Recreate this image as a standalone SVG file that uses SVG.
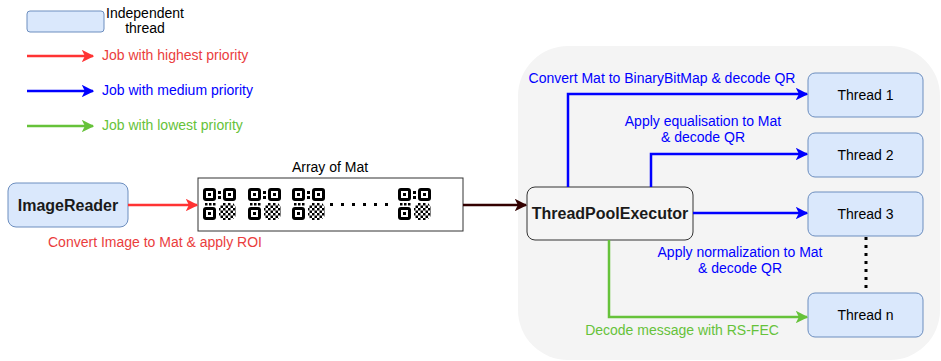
<svg xmlns="http://www.w3.org/2000/svg" xmlns:xlink="http://www.w3.org/1999/xlink" width="941" height="361" viewBox="0 0 941 361">
  <style>
    text { font-family: "Liberation Sans", Arial, sans-serif; font-size: 14px; }
    .thread { fill: #dae8fc; stroke: #6c8ebf; stroke-width: 1; }
    .bold { font-weight: bold; font-size: 16px; fill: #1a1a1a; }
    .c { text-anchor: middle; }
    .red { fill: #ea3d3d; }
    .blue { fill: #0000ff; }
    .green { fill: #66c23a; }
    .ln { fill: none; stroke-width: 2.5; }
  </style>
  <defs>
    <marker id="ah-red" viewBox="0 0 10 10" refX="9" refY="5" markerWidth="5" markerHeight="5" markerUnits="strokeWidth" orient="auto">
      <path d="M0,0 L10,5 L0,10 L2.5,5 Z" fill="#ff3333"/>
    </marker>
    <marker id="ah-blue" viewBox="0 0 10 10" refX="9" refY="5" markerWidth="5" markerHeight="5" markerUnits="strokeWidth" orient="auto">
      <path d="M0,0 L10,5 L0,10 L2.5,5 Z" fill="#0000ff"/>
    </marker>
    <marker id="ah-green" viewBox="0 0 10 10" refX="9" refY="5" markerWidth="5" markerHeight="5" markerUnits="strokeWidth" orient="auto">
      <path d="M0,0 L10,5 L0,10 L2.5,5 Z" fill="#66c23a"/>
    </marker>
    <marker id="ah-dark" viewBox="0 0 10 10" refX="9" refY="5" markerWidth="5" markerHeight="5" markerUnits="strokeWidth" orient="auto">
      <path d="M0,0 L10,5 L0,10 L2.5,5 Z" fill="#330000"/>
    </marker>
    <pattern id="checker" width="5" height="5" patternUnits="userSpaceOnUse">
      <rect x="0" y="0" width="2.5" height="2.5" fill="#000"/>
      <rect x="2.5" y="2.5" width="2.5" height="2.5" fill="#000"/>
    </pattern>
    <g id="finder">
      <rect x="0" y="0" width="13" height="13" rx="3" fill="#000"/>
      <rect x="3" y="3" width="7" height="7" fill="#fff"/>
      <rect x="5" y="5" width="3" height="3" fill="#000"/>
    </g>
    <!-- QR code glyph, 33 x 32 -->
    <symbol id="qr" viewBox="0 0 33 32" width="33" height="32">
      <use xlink:href="#finder" x="0" y="0"/>
      <use xlink:href="#finder" x="20" y="0"/>
      <use xlink:href="#finder" x="0" y="19"/>
      <rect x="15" y="3" width="3" height="3"/>
      <rect x="15" y="8" width="3" height="3"/>
      <rect x="2" y="15" width="2.5" height="2.5"/>
      <rect x="6" y="15" width="2.5" height="2.5"/>
      <rect x="10" y="15" width="2.5" height="2.5"/>
      <path d="M20,15 L30,15 L33,19 L33,28 L29,32 L19,32 L16,28 L16,19 Z" fill="url(#checker)"/>
    </symbol>
  </defs>

  <!-- legend -->
  <g id="legend">
    <rect class="thread" x="27" y="11" width="77" height="21" rx="3"/>
    <text x="145" y="18" class="c">Independent</text>
    <text x="145" y="33" class="c">thread</text>
    <line class="ln" x1="27" y1="56" x2="93" y2="56" stroke="#ff3333" marker-end="url(#ah-red)"/>
    <text x="102" y="60" class="red">Job with highest priority</text>
    <line class="ln" x1="27" y1="91" x2="93" y2="91" stroke="#0000ff" marker-end="url(#ah-blue)"/>
    <text x="102" y="95" class="blue">Job with medium priority</text>
    <line class="ln" x1="27" y1="126" x2="93" y2="126" stroke="#66c23a" marker-end="url(#ah-green)"/>
    <text x="102" y="130" class="green">Job with lowest priority</text>
  </g>

  <!-- thread pool background -->
  <rect id="pool-area" x="518" y="46" width="422" height="314" rx="50" fill="#f4f4f4"/>

  <g id="image-reader">
    <rect class="thread" x="8" y="183" width="120" height="44" rx="8"/>
    <text x="68" y="211" class="bold c">ImageReader</text>
  </g>

  <g id="array-of-mat">
    <text x="330" y="172" class="c">Array of Mat</text>
    <rect x="198" y="178" width="265" height="53" fill="#fff" stroke="#333" stroke-width="1"/>
    <use xlink:href="#qr" x="203" y="188"/>
    <use xlink:href="#qr" x="248" y="188"/>
    <use xlink:href="#qr" x="292" y="188"/>
    <use xlink:href="#qr" x="398" y="188"/>
    <g fill="#000">
      <rect x="330" y="203" width="3" height="3"/>
      <rect x="341" y="203" width="3" height="3"/>
      <rect x="352" y="203" width="3" height="3"/>
      <rect x="363" y="203" width="3" height="3"/>
      <rect x="374" y="203" width="3" height="3"/>
      <rect x="385" y="203" width="3" height="3"/>
    </g>
  </g>

  <g id="executor">
    <rect x="527" y="187" width="166" height="53" rx="8" fill="#f5f5f5" stroke="#333" stroke-width="1"/>
    <text x="610" y="219" class="bold c">ThreadPoolExecutor</text>
  </g>

  <g id="thread-1">
    <rect class="thread" x="808" y="73" width="115" height="44" rx="7"/>
    <text x="865.5" y="100" class="c">Thread 1</text>
  </g>
  <g id="thread-2">
    <rect class="thread" x="808" y="133" width="115" height="44" rx="7"/>
    <text x="865.5" y="160" class="c">Thread 2</text>
  </g>
  <g id="thread-3">
    <rect class="thread" x="808" y="192" width="115" height="44" rx="7"/>
    <text x="865.5" y="219" class="c">Thread 3</text>
  </g>
  <g id="thread-n">
    <rect class="thread" x="808" y="293" width="115" height="44" rx="7"/>
    <text x="865.5" y="320" class="c">Thread n</text>
  </g>

  <g id="connectors">
    <line class="ln" x1="128" y1="205" x2="197" y2="205" stroke="#ff3333" marker-end="url(#ah-red)"/>
    <line class="ln" x1="463" y1="205" x2="526" y2="205" stroke="#330000" marker-end="url(#ah-dark)"/>
    <path class="ln" d="M568,187 V94 H807" stroke="#0000ff" marker-end="url(#ah-blue)"/>
    <path class="ln" d="M651,187 V154 H807" stroke="#0000ff" marker-end="url(#ah-blue)"/>
    <path class="ln" d="M693,213 H807" stroke="#0000ff" marker-end="url(#ah-blue)"/>
    <path class="ln" d="M609,240 V317 H807" stroke="#66c23a" marker-end="url(#ah-green)"/>
    <line x1="866" y1="237" x2="866" y2="293" stroke="#000" stroke-width="3" stroke-dasharray="3 5"/>
  </g>

  <g id="labels">
    <text x="155" y="247" class="red c">Convert Image to Mat &amp; apply ROI</text>
    <text x="662" y="83" class="blue c">Convert Mat to BinaryBitMap &amp; decode QR</text>
    <text x="703" y="126" class="blue c">Apply equalisation to Mat</text>
    <text x="703" y="142" class="blue c">&amp; decode QR</text>
    <text x="740" y="257" class="blue c">Apply normalization to Mat</text>
    <text x="740" y="273" class="blue c">&amp; decode QR</text>
    <text x="682" y="335" class="green c">Decode message with RS-FEC</text>
  </g>
</svg>
